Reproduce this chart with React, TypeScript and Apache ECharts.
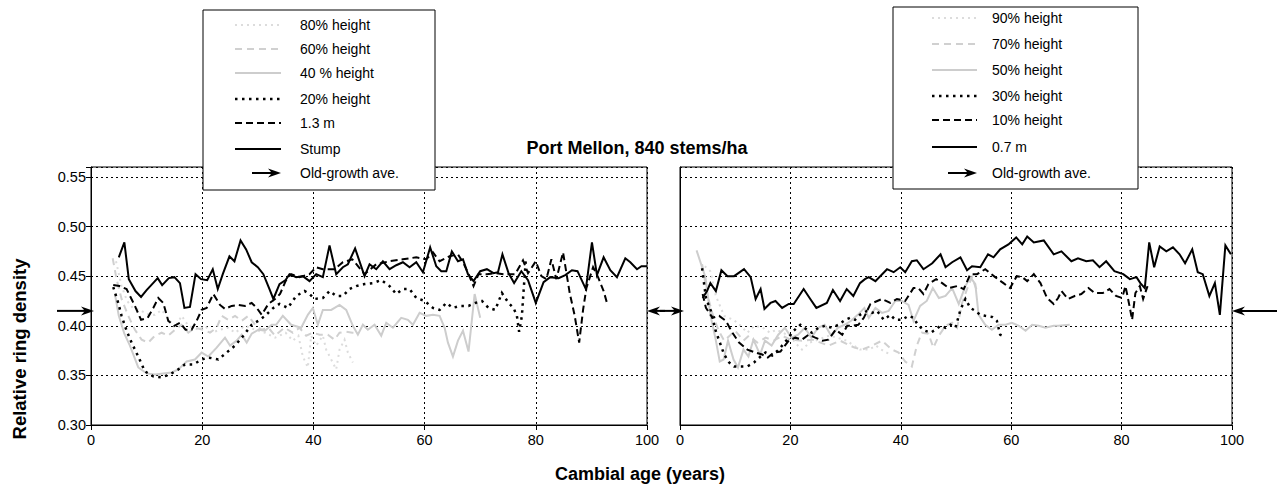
import React, { useEffect, useRef } from "react";
import * as echarts from "echarts";

// ---- text ----
const TITLE = "Port Mellon, 840 stems/ha";
const X_LABEL = "Cambial age (years)";
const Y_LABEL = "Relative ring density";
const OLD_GROWTH_NAME = "Old-growth ave.";
const LEFT_NAMES = ["80% height", "60% height", "40 % height", "20% height", "1.3 m", "Stump"];
const RIGHT_NAMES = ["90% height", "70% height", "50% height", "30% height", "10% height", "0.7 m"];

// ---- axes ----
const X_MIN = 0;
const X_MAX = 100;
const X_STEP = 20;
const Y_MIN = 0.3;
const Y_MAX = 0.56;
const Y_STEP = 0.05;

// old-growth average relative density (arrow level on each panel)
const OLD_GROWTH_AVE = 0.415;

// ---- left panel: [cambial age, relative density] ----
const L_H80 = [[4.5,0.465],[5.5,0.44],[6.5,0.425],[7.5,0.418],[8.8,0.416],[10,0.412],[11.5,0.411],[12.7,0.416],[14.2,0.405],[15.1,0.398],[16.3,0.41],[17.5,0.4],[19.3,0.396],[20.5,0.4],[21.7,0.393],[23.2,0.396],[24.7,0.398],[25.9,0.393],[27.7,0.4],[29.5,0.396],[31.3,0.393],[33.1,0.388],[33.9,0.39],[35,0.393],[36.3,0.385],[37.3,0.39],[38.1,0.369],[39,0.358],[39.6,0.39],[40.5,0.38],[41.7,0.39],[42.3,0.376],[43.2,0.366],[44.1,0.356],[44.7,0.376],[45.6,0.386],[46.2,0.373],[47.1,0.363]];
const L_H60 = [[3.9,0.468],[4.6,0.447],[5.5,0.427],[6.7,0.41],[7.9,0.396],[9.1,0.386],[10.3,0.383],[11.5,0.39],[12.7,0.393],[13.9,0.39],[15.1,0.396],[16.3,0.401],[17.5,0.393],[18.7,0.398],[20.2,0.396],[21.4,0.393],[22.6,0.398],[23.5,0.41],[24.7,0.406],[25.9,0.41],[27.1,0.405],[28.3,0.41],[29.5,0.401],[30.7,0.396],[31.9,0.398],[33.1,0.39],[34.8,0.398],[36.3,0.393],[37.5,0.398],[38.7,0.39],[39.9,0.393],[41.1,0.391],[42.6,0.391],[43.8,0.386],[44.7,0.393],[45.9,0.394],[47,0.393],[48.2,0.393]];
const L_H40 = [[4.3,0.432],[5,0.41],[6,0.392],[7,0.38],[8.5,0.358],[10,0.352],[11.5,0.351],[13,0.352],[14.5,0.353],[15.7,0.356],[17.2,0.364],[18.7,0.366],[19.9,0.373],[21.1,0.369],[22.6,0.378],[24.1,0.388],[25,0.38],[26.2,0.385],[27.1,0.391],[28,0.383],[28.9,0.392],[30.1,0.396],[31.3,0.395],[32.5,0.401],[33.3,0.401],[34.5,0.41],[36,0.401],[37.8,0.398],[39,0.411],[39.9,0.418],[40.8,0.401],[41.7,0.416],[43.2,0.416],[44.7,0.421],[45.9,0.416],[47.1,0.4],[48,0.391],[48.9,0.401],[49.8,0.396],[51,0.401],[52.2,0.39],[53.1,0.403],[54.3,0.398],[55.8,0.408],[57,0.406],[57.9,0.401],[59.1,0.413],[60.3,0.41],[61.5,0.411],[62.7,0.41],[63.6,0.398],[64.2,0.383],[65.1,0.369],[66,0.385],[66.9,0.395],[67.9,0.374],[69,0.432],[70,0.408]];
const L_H20 = [[4,0.439],[4.9,0.423],[5.5,0.41],[6.4,0.395],[7.3,0.383],[8.5,0.369],[9.7,0.354],[11.2,0.349],[12.7,0.348],[14.2,0.351],[15.7,0.356],[16.9,0.361],[18.4,0.361],[19.9,0.366],[21.1,0.368],[22.9,0.366],[24.4,0.373],[25.9,0.38],[27.4,0.39],[28.9,0.401],[30.1,0.405],[31.3,0.41],[32.8,0.418],[33.9,0.422],[35.4,0.418],[36.9,0.43],[38.4,0.435],[39.3,0.432],[40.2,0.427],[41.7,0.428],[42.9,0.435],[44.1,0.43],[45.3,0.43],[46.5,0.437],[47.7,0.44],[49.2,0.442],[50.7,0.443],[52.2,0.446],[53.7,0.44],[54.9,0.432],[56.1,0.437],[57.3,0.437],[58.5,0.428],[60,0.425],[61.5,0.418],[62.7,0.416],[63.9,0.423],[65.1,0.418],[66.3,0.42],[67.9,0.42],[69.1,0.423],[70.3,0.425],[71.5,0.418],[72.7,0.416],[73.9,0.433],[75.1,0.423],[76,0.418],[76.6,0.41],[77,0.394],[77.5,0.41],[77.8,0.435],[78.2,0.466]];
const L_M13 = [[4,0.441],[5.1,0.44],[6.4,0.437],[7.9,0.42],[9,0.406],[10.2,0.408],[11.2,0.418],[12.1,0.428],[13,0.423],[13.9,0.405],[15,0.4],[16,0.403],[17,0.396],[18.1,0.396],[19,0.405],[19.9,0.416],[20.8,0.418],[22,0.432],[23.2,0.421],[24.1,0.417],[25.3,0.42],[26.5,0.421],[27.7,0.42],[28.9,0.423],[29.8,0.418],[30.7,0.411],[31.9,0.422],[33.1,0.427],[34,0.432],[35,0.445],[36,0.452],[37.5,0.449],[39.3,0.452],[40.5,0.459],[41.7,0.457],[43.8,0.457],[45.3,0.464],[47,0.467],[49.2,0.452],[51.3,0.462],[53.7,0.465],[56.1,0.467],[58.5,0.469],[60.3,0.467],[61.5,0.474],[62.7,0.465],[64.5,0.47],[66,0.472],[67,0.463],[67.9,0.452],[68.8,0.44],[69.7,0.452],[71.2,0.452],[72.7,0.453],[74.2,0.452],[76.3,0.452],[77.7,0.466],[78.6,0.453],[80,0.465],[81,0.45],[81.9,0.447],[82.8,0.467],[83.7,0.447],[84.9,0.474],[86.1,0.433],[87,0.41],[87.8,0.383],[88.5,0.416],[89.1,0.438],[90.3,0.459],[91.2,0.449],[92.2,0.435],[92.9,0.421]];
const L_STUMP = [[5,0.469],[6,0.484],[6.8,0.447],[8,0.435],[9,0.429],[10,0.436],[11,0.442],[12,0.448],[12.8,0.441],[14,0.448],[15,0.449],[16,0.443],[16.8,0.418],[17.8,0.419],[18.8,0.452],[19.8,0.447],[20.9,0.446],[21.9,0.457],[22.8,0.437],[23.7,0.452],[24.9,0.47],[25.8,0.465],[26.9,0.486],[27.9,0.477],[28.9,0.464],[30,0.459],[31,0.452],[32.1,0.437],[32.8,0.427],[33.9,0.442],[35,0.446],[35.7,0.452],[36.9,0.449],[38.1,0.45],[39.3,0.445],[40.5,0.452],[41.7,0.449],[42.9,0.481],[44.1,0.452],[45.3,0.459],[46.2,0.462],[47.5,0.478],[49.2,0.45],[50.1,0.462],[51.3,0.457],[52.5,0.465],[53.7,0.457],[54.9,0.461],[56.1,0.464],[57.3,0.459],[58.5,0.464],[59.7,0.454],[61,0.479],[62.1,0.46],[63,0.455],[63.9,0.455],[64.9,0.475],[66,0.465],[66.9,0.467],[67.8,0.452],[68.8,0.445],[70,0.455],[71.2,0.457],[72.4,0.453],[73.2,0.454],[74,0.472],[75.1,0.453],[76.1,0.443],[77.4,0.455],[78.6,0.446],[80,0.423],[81.4,0.444],[82.6,0.449],[84.1,0.448],[85.3,0.451],[86.5,0.456],[87.5,0.455],[89,0.437],[90.1,0.484],[91,0.451],[92.2,0.469],[93.4,0.456],[94.6,0.449],[96.1,0.468],[97,0.464],[98.2,0.457],[99,0.46],[100,0.46]];

// ---- right panel ----
const R_H90 = [[4.5,0.46],[5.5,0.455],[6.5,0.43],[8,0.41],[9.7,0.406],[11,0.4],[12.2,0.393],[13.5,0.4],[15,0.398],[16.3,0.393],[17.5,0.396],[19,0.392],[20,0.39],[21,0.382],[22.1,0.376],[23.5,0.383],[25,0.386],[27,0.39],[28.5,0.388],[30.2,0.385],[31.5,0.38],[32.6,0.376],[34.2,0.376],[35.5,0.38],[37,0.374],[37.8,0.372]];
const R_H70 = [[4,0.462],[5,0.43],[6,0.41],[7,0.395],[8,0.385],[9,0.39],[10,0.395],[11.5,0.385],[12.5,0.39],[14,0.383],[15.5,0.388],[17,0.385],[18.5,0.39],[20,0.386],[22.1,0.385],[24,0.386],[26.9,0.38],[29,0.385],[31.6,0.378],[33,0.376],[34.8,0.38],[36.6,0.385],[38.4,0.376],[39.6,0.373],[40.8,0.364],[42,0.359],[42.9,0.38],[43.8,0.393],[45,0.392],[45.9,0.378],[46.9,0.39],[48.1,0.4],[49.3,0.403],[50.2,0.398],[51.1,0.423],[52,0.437],[52.9,0.449],[53.8,0.435]];
const R_H50 = [[3,0.476],[4.6,0.449],[5.5,0.411],[6.4,0.388],[7.2,0.364],[7.9,0.366],[8.7,0.385],[9.7,0.366],[10.5,0.358],[11.5,0.376],[12.4,0.369],[13.3,0.386],[14.5,0.371],[15.4,0.385],[16.6,0.38],[17.8,0.391],[19,0.398],[20.2,0.388],[21.4,0.391],[22.6,0.398],[23.8,0.388],[25,0.398],[26.2,0.401],[27.4,0.39],[28.6,0.398],[29.8,0.401],[31,0.405],[32.2,0.411],[33.4,0.418],[34.2,0.408],[35.4,0.418],[36.6,0.413],[37.8,0.415],[39,0.425],[40.2,0.425],[41.4,0.421],[42.3,0.405],[43.5,0.42],[44.7,0.425],[45.8,0.438],[46.9,0.428],[48.1,0.43],[49.3,0.438],[50.5,0.422],[51.7,0.44],[52.6,0.449],[53.5,0.442],[54.1,0.411],[55.3,0.401],[56.5,0.396],[57.7,0.401],[59,0.401],[60.1,0.403],[61.4,0.4],[62.6,0.395],[63.8,0.401],[65,0.4],[66.2,0.398],[67.7,0.4],[68.5,0.4],[70.6,0.401]];
const R_H30 = [[4,0.458],[4.7,0.428],[5.6,0.415],[6.4,0.396],[7.1,0.385],[8,0.371],[8.9,0.363],[9.8,0.359],[11,0.359],[12.2,0.359],[13.4,0.363],[14.6,0.369],[15.5,0.373],[16.7,0.37],[17.9,0.376],[19.4,0.386],[20.6,0.395],[21.8,0.401],[23,0.396],[23.9,0.393],[25.1,0.398],[26.3,0.4],[27.5,0.398],[28.7,0.401],[29.9,0.406],[30.8,0.408],[31.7,0.406],[32.6,0.411],[33.9,0.415],[34.8,0.413],[35.7,0.415],[36.9,0.406],[38.1,0.411],[39,0.406],[40.2,0.406],[41.4,0.41],[42.3,0.408],[43.2,0.4],[44.4,0.395],[45.4,0.393],[46.3,0.396],[47.2,0.4],[48.1,0.398],[49,0.401],[49.9,0.398],[50.8,0.416],[51.7,0.427],[52.6,0.418],[53.5,0.415],[54.4,0.411],[55.3,0.41],[56.5,0.409],[57.4,0.405],[58,0.391],[58.8,0.389]];
const R_H10 = [[4.1,0.432],[4.7,0.418],[5.9,0.408],[7.1,0.41],[8.3,0.405],[9.5,0.393],[10.7,0.383],[12.2,0.376],[13.7,0.373],[14.9,0.371],[15.9,0.368],[17,0.373],[18.2,0.374],[19.7,0.385],[20.9,0.388],[22.1,0.386],[23.3,0.391],[24.5,0.388],[25.8,0.385],[26.9,0.386],[28.2,0.396],[29.4,0.391],[30.3,0.4],[31.2,0.4],[32.3,0.401],[33.3,0.408],[34.5,0.422],[36.6,0.427],[38.1,0.423],[39.3,0.427],[40.8,0.425],[42.3,0.438],[43.2,0.438],[44.1,0.432],[45,0.442],[46.4,0.447],[47.5,0.443],[48.7,0.438],[50.2,0.44],[51.4,0.437],[52.6,0.452],[53.8,0.452],[55.3,0.457],[57.1,0.449],[58.6,0.443],[59.8,0.438],[61,0.45],[62,0.449],[62.9,0.445],[64.1,0.452],[65.3,0.443],[66.5,0.428],[67.7,0.422],[68.5,0.428],[69.1,0.435],[70.3,0.427],[71.5,0.43],[72.7,0.432],[74,0.438],[75.1,0.433],[76.6,0.433],[77.8,0.437],[79,0.43],[80.1,0.428],[80.7,0.44],[81.5,0.418],[81.9,0.406],[82.5,0.433],[83.3,0.44],[83.9,0.427],[84.7,0.44]];
const R_M07 = [[4.1,0.428],[4.9,0.435],[5.5,0.443],[6.5,0.435],[7.5,0.456],[8.6,0.45],[9.8,0.45],[11.6,0.457],[12.8,0.449],[13.7,0.427],[14.6,0.437],[15.3,0.417],[16.4,0.423],[17.3,0.425],[18.5,0.418],[19.7,0.422],[20.6,0.422],[22.4,0.437],[23.6,0.427],[24.7,0.418],[26.6,0.423],[27.7,0.436],[29,0.425],[30.2,0.437],[31.4,0.43],[32.6,0.443],[33.5,0.447],[34.2,0.449],[35.4,0.445],[37.5,0.457],[38.7,0.454],[39.9,0.459],[40.8,0.454],[42,0.465],[42.9,0.466],[44.1,0.457],[45.7,0.463],[47.2,0.472],[48.1,0.459],[49.3,0.464],[50.8,0.469],[52,0.456],[52.9,0.46],[54.4,0.459],[55.8,0.472],[56.8,0.469],[58,0.477],[59.5,0.482],[60.9,0.489],[62,0.482],[62.9,0.49],[64.1,0.484],[65.9,0.486],[67.7,0.472],[69.1,0.475],[70.9,0.465],[72.1,0.468],[73.6,0.465],[74.8,0.466],[76,0.459],[77.2,0.465],[78.7,0.455],[80.3,0.452],[81.5,0.447],[82.7,0.449],[83.4,0.443],[84.2,0.438],[85,0.484],[85.9,0.459],[86.9,0.48],[88.1,0.475],[89.3,0.479],[90.5,0.472],[91.5,0.463],[92.8,0.477],[93.8,0.454],[94.7,0.452],[95.9,0.43],[96.9,0.443],[97.8,0.411],[98.8,0.481],[99.8,0.472]];

const LEFT_SERIES = [L_H80, L_H60, L_H40, L_H20, L_M13, L_STUMP];
const RIGHT_SERIES = [R_H90, R_H70, R_H50, R_H30, R_H10, R_M07];

// line looks, shared by both panels (highest position first, base last)
const LINE_LOOKS = [
  { color: "#dcdcdc", type: [2, 4] as any, width: 2 },
  { color: "#d0d0d0", type: [7, 5] as any, width: 2 },
  { color: "#cdcdcd", type: "solid" as any, width: 2 },
  { color: "#000000", type: [2.5, 4.5] as any, width: 2.5 },
  { color: "#000000", type: [7, 4] as any, width: 2 },
  { color: "#000000", type: "solid" as any, width: 2 },
];

const FONT = "'Liberation Sans', Arial, Helvetica, sans-serif";

function isStep(v: number) {
  const k = v / Y_STEP;
  return Math.abs(k - Math.round(k)) < 1e-6;
}

function xAxis(gridIndex: number) {
  return {
    gridIndex,
    type: "value",
    min: X_MIN,
    max: X_MAX,
    interval: X_STEP,
    axisLine: { show: true, onZero: false, lineStyle: { color: "#000", width: 1 } },
    axisTick: { show: true, length: 5, lineStyle: { color: "#000" } },
    axisLabel: { color: "#000", fontSize: 14.5, fontFamily: FONT, margin: 7 },
    splitLine: { show: true, lineStyle: { color: "#000", width: 1, type: [2, 3] } },
  };
}

function yAxis(gridIndex: number, labels: boolean) {
  return {
    gridIndex,
    type: "value",
    min: Y_MIN,
    max: Y_MAX,
    interval: Y_STEP,
    axisLine: { show: true, onZero: false, lineStyle: { color: "#000", width: 1 } },
    axisTick: { show: labels, length: 5, lineStyle: { color: "#000" } },
    axisLabel: {
      show: labels,
      color: "#000",
      fontSize: 14.5,
      fontFamily: FONT,
      margin: 5,
      formatter: (v: number) => (isStep(v) ? v.toFixed(2) : ""),
    },
    splitLine: { show: true, lineStyle: { color: "#000", width: 1, type: [2, 3] } },
  };
}

function arrow(tipX: number, tailX: number, y: number) {
  const dir = tipX > tailX ? 1 : -1;
  const head = 13;
  const half = 4.5;
  return [
    {
      type: "line",
      shape: { x1: tailX, y1: y, x2: tipX - dir * head * 0.6, y2: y },
      style: { stroke: "#000", lineWidth: 2 },
      z: 100,
    },
    {
      type: "polygon",
      shape: {
        points: [
          [tipX, y],
          [tipX - dir * head, y - half],
          [tipX - dir * head * 0.7, y],
          [tipX - dir * head, y + half],
        ],
      },
      style: { fill: "#000" },
      z: 100,
    },
  ];
}

function legendBox(
  box: { x: number; y: number; w: number; h: number },
  rows: number[],
  lineX0: number,
  lineX1: number,
  textX: number,
  names: string[]
) {
  const els: any[] = [
    {
      type: "rect",
      shape: { x: box.x, y: box.y, width: box.w, height: box.h },
      style: { fill: "#fff", stroke: "#000", lineWidth: 1 },
      z: 200,
    },
  ];
  names.forEach((name, i) => {
    const look = LINE_LOOKS[i];
    els.push({
      type: "line",
      shape: { x1: lineX0, y1: rows[i], x2: lineX1, y2: rows[i] },
      style: {
        stroke: look.color,
        lineWidth: look.width,
        lineDash: look.type === "solid" ? null : look.type,
      },
      z: 201,
    });
    els.push({
      type: "text",
      x: textX,
      y: rows[i],
      style: { text: name, font: `14px ${FONT}`, fill: "#000", textVerticalAlign: "middle" },
      z: 201,
    });
  });
  const ay = rows[names.length];
  arrow(lineX1, lineX1 - 29, ay).forEach((e) => els.push({ ...e, z: 201 }));
  els.push({
    type: "text",
    x: textX,
    y: ay,
    style: { text: OLD_GROWTH_NAME, font: `14px ${FONT}`, fill: "#000", textVerticalAlign: "middle" },
    z: 201,
  });
  return els;
}

export default function App() {
  const ref = useRef<HTMLDivElement>(null);

  useEffect(() => {
    if (!ref.current) return;
    const chart = echarts.init(ref.current, undefined, { renderer: "svg" });

    const series: any[] = [];
    [LEFT_SERIES, RIGHT_SERIES].forEach((panel, gi) => {
      const names = gi === 0 ? LEFT_NAMES : RIGHT_NAMES;
      panel.forEach((data, i) => {
        const look = LINE_LOOKS[i];
        series.push({
          name: names[i],
          type: "line",
          xAxisIndex: gi,
          yAxisIndex: gi,
          data,
          showSymbol: false,
          symbol: "none",
          silent: true,
          z: 2 + i,
          lineStyle: { color: look.color, width: look.width, type: look.type, cap: "butt", join: "miter" },
        });
      });
    });

    chart.setOption({
      animation: false,
      backgroundColor: "#fff",
      grid: [
        { left: 91, right: 633, top: 167, bottom: 64, show: true, borderColor: "#000", borderWidth: 1, backgroundColor: "transparent" },
        { left: 680, right: 48, top: 167, bottom: 64, show: true, borderColor: "#000", borderWidth: 1, backgroundColor: "transparent" },
      ],
      xAxis: [xAxis(0), xAxis(1)],
      yAxis: [yAxis(0, true), yAxis(1, false)],
      series,
    });

    const pL0 = chart.convertToPixel({ gridIndex: 0 }, [X_MIN, OLD_GROWTH_AVE]) as number[];
    const pL1 = chart.convertToPixel({ gridIndex: 0 }, [X_MAX, OLD_GROWTH_AVE]) as number[];
    const pR0 = chart.convertToPixel({ gridIndex: 1 }, [X_MIN, OLD_GROWTH_AVE]) as number[];
    const pR1 = chart.convertToPixel({ gridIndex: 1 }, [X_MAX, OLD_GROWTH_AVE]) as number[];

    const graphic: any[] = [
      ...arrow(pL0[0] + 3, pL0[0] - 34, pL0[1]),
      ...arrow(pL1[0], pL1[0] + 18, pL1[1]),
      ...arrow(pR0[0] + 4, pR0[0] - 20, pR0[1]),
      ...arrow(pR1[0], pR1[0] + 45, pR1[1]),
      ...legendBox({ x: 203, y: 10, w: 232, h: 180 }, [25, 49, 73, 99, 123, 149, 173], 235, 281, 300, LEFT_NAMES),
      ...legendBox({ x: 893, y: 7, w: 245, h: 182 }, [18, 44, 70, 96, 120, 147, 173], 932, 977, 992, RIGHT_NAMES),
      {
        type: "text",
        x: 637,
        y: 148,
        style: { text: TITLE, font: `bold 18px ${FONT}`, fill: "#000", textAlign: "center", textVerticalAlign: "middle" },
        z: 100,
      },
      {
        type: "text",
        x: 640,
        y: 474,
        style: { text: X_LABEL, font: `bold 18px ${FONT}`, fill: "#000", textAlign: "center", textVerticalAlign: "middle" },
        z: 100,
      },
      {
        type: "text",
        x: 19,
        y: 349,
        rotation: Math.PI / 2,
        style: { text: Y_LABEL, font: `bold 18.5px ${FONT}`, fill: "#000", textAlign: "center", textVerticalAlign: "middle" },
        z: 100,
      },
    ];
    chart.setOption({ graphic });

    return () => chart.dispose();
  }, []);

  return (
    <div
      ref={ref}
      style={{ position: "fixed", left: 0, top: 0, width: 1280, height: 489, background: "#fff" }}
    />
  );
}
